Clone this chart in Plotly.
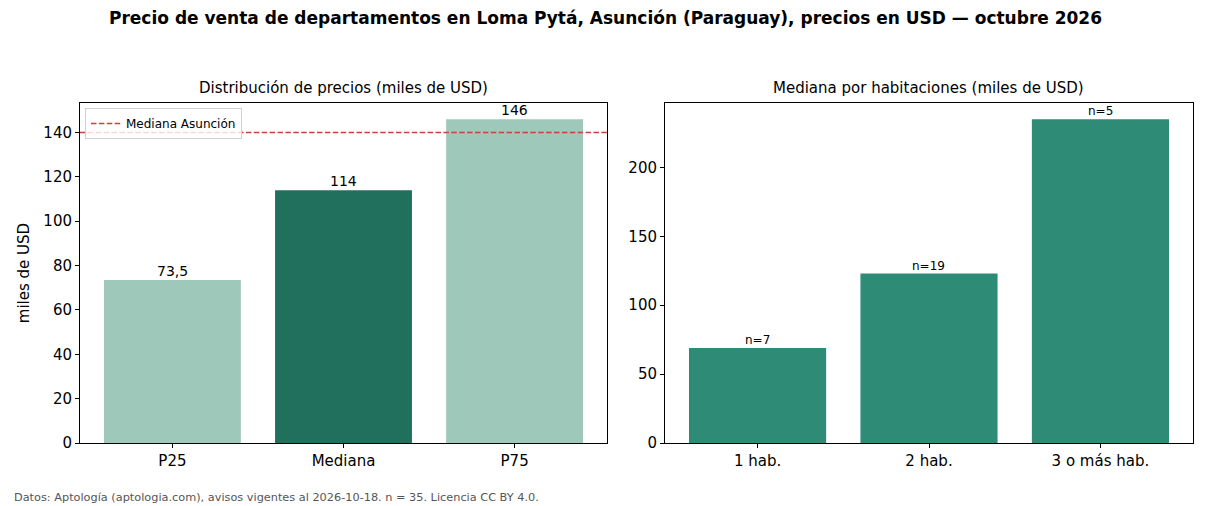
import plotly.graph_objects as go

# Data
dist_labels = ["P25", "Mediana", "P75"]
dist_values = [73.5, 114, 146]
asuncion_median = 140

hab_labels = ["1 hab.", "2 hab.", "3 o más hab."]
hab_values = [69, 123, 235]
hab_counts = [7, 19, 5]

title = "Precio de venta de departamentos en Loma Pytá, Asunción (Paraguay), precios en USD — octubre 2026"
footer = "Datos: Aptología (aptologia.com), avisos vigentes al 2026-10-18. n = 35. Licencia CC BY 4.0."

FONT = "DejaVu Sans"
W, H = 1210, 506

def fx(px):
    return px / W

def fy(py):
    return 1 - py / H

light = "#9dc8ba"
dark = "#216f5d"
mid = "#2e8b76"
red = "#c8413a"

fig = go.Figure()

fig.add_trace(go.Bar(
    x=dist_labels, y=dist_values,
    marker=dict(color=[light, dark, light], line=dict(width=0)),
    width=0.8, xaxis="x", yaxis="y", showlegend=False,
))

fig.add_trace(go.Bar(
    x=hab_labels, y=hab_values,
    marker=dict(color=mid, line=dict(width=0)),
    width=0.8, xaxis="x2", yaxis="y2", showlegend=False,
))

fig.add_shape(
    type="line", xref="x domain", x0=0, x1=1, yref="y", y0=asuncion_median, y1=asuncion_median,
    line=dict(color=red, width=1.5, dash="5.5px,2.4px"),
    showlegend=True, name="Mediana Asunción", layer="above",
)

axis_common = dict(
    showline=True, linecolor="#000", linewidth=1, mirror=True,
    ticks="outside", ticklen=4, tickcolor="#000", tickwidth=1,
    showgrid=False, zeroline=False, automargin=False,
    tickfont=dict(family=FONT, size=15, color="#000"),
)

annotations = [
    dict(text="<b>" + title + "</b>", x=0.5, y=fy(18), xref="paper", yref="paper",
         xanchor="center", yanchor="middle", showarrow=False,
         font=dict(family=FONT, size=17, color="#000")),
    dict(text="Distribución de precios (miles de USD)", x=(fx(80) + fx(607)) / 2, y=fy(88),
         xref="paper", yref="paper", xanchor="center", yanchor="middle", showarrow=False,
         font=dict(family=FONT, size=15, color="#000")),
    dict(text="Mediana por habitaciones (miles de USD)", x=(fx(665) + fx(1193)) / 2, y=fy(88),
         xref="paper", yref="paper", xanchor="center", yanchor="middle", showarrow=False,
         font=dict(family=FONT, size=15, color="#000")),
    dict(text=footer, x=fx(12), y=fy(497), xref="paper", yref="paper",
         xanchor="left", yanchor="middle", showarrow=False,
         font=dict(family=FONT, size=11.3, color="#555")),
]

for lab, v in zip(dist_labels, dist_values):
    annotations.append(dict(
        text=f"{v:g}".replace(".", ","), x=lab, y=v, xref="x", yref="y",
        xanchor="center", yanchor="bottom", showarrow=False, yshift=-1,
        font=dict(family=FONT, size=14, color="#000")))

for lab, v, c in zip(hab_labels, hab_values, hab_counts):
    annotations.append(dict(
        text=f"n={c}", x=lab, y=v, xref="x2", yref="y2",
        xanchor="center", yanchor="bottom", showarrow=False, yshift=-1,
        font=dict(family=FONT, size=12, color="#000")))

fig.update_layout(
    width=W, height=H,
    margin=dict(l=0, r=0, t=0, b=0, autoexpand=False),
    paper_bgcolor="white", plot_bgcolor="white",
    font=dict(family=FONT, color="#000"),
    bargap=0.2,
    xaxis=dict(domain=[fx(80), fx(607)], anchor="y", range=[-0.54, 2.54], **axis_common),
    yaxis=dict(domain=[fy(443), fy(103)], anchor="x", range=[0, 153.3], dtick=20,
               title=dict(text="miles de USD", font=dict(family=FONT, size=15, color="#000"), standoff=10),
               **axis_common),
    xaxis2=dict(domain=[fx(665), fx(1193)], anchor="y2", range=[-0.54, 2.54], **axis_common),
    yaxis2=dict(domain=[fy(443), fy(103)], anchor="x2", range=[0, 246.75], dtick=50, **axis_common),
    legend=dict(
        x=fx(85), y=fy(108), xanchor="left", yanchor="top",
        bgcolor="rgba(255,255,255,0.8)", bordercolor="#d0d0d0", borderwidth=1,
        font=dict(family=FONT, size=12, color="#000"),
        itemwidth=30, tracegroupgap=0,
    ),
    annotations=annotations,
)

fig.write_html("out.html")
